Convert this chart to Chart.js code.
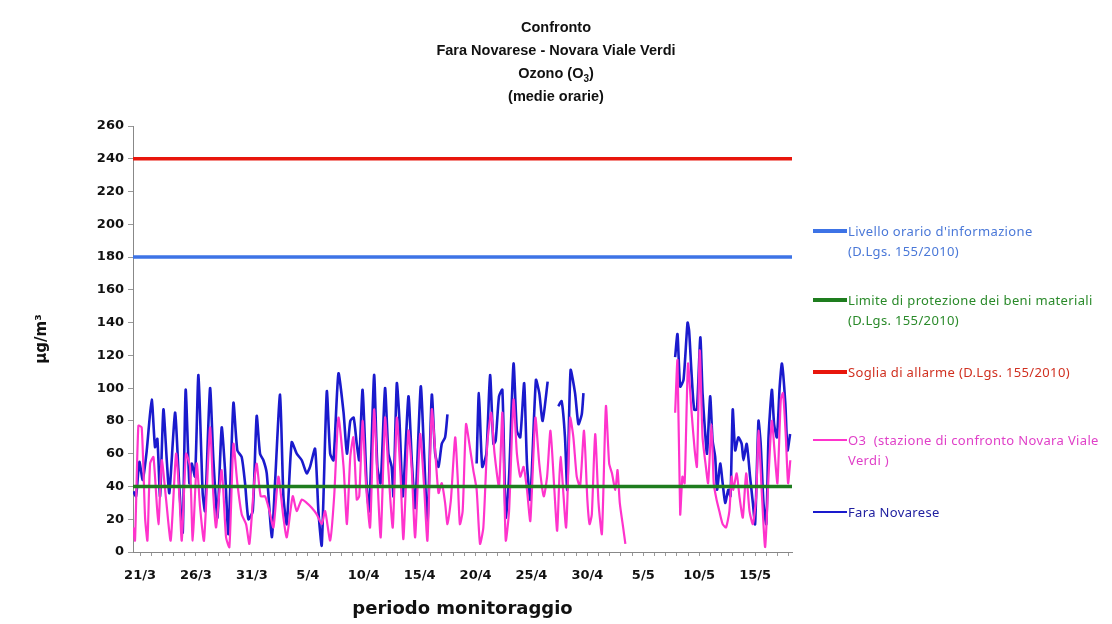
<!DOCTYPE html>
<html><head><meta charset="utf-8">
<script src="https://cdn.jsdelivr.net/npm/chart.js@4.4.1/dist/chart.umd.min.js"></script>
<style>
body{margin:0;background:#fff;}
#wrap{position:relative;width:1112px;height:624px;overflow:hidden;background:#fff;}
#c{position:absolute;left:0;top:0;}
#title{position:absolute;left:0;top:16px;width:1112px;text-align:center;font:bold 14.5px "Liberation Sans",sans-serif;line-height:23px;color:#111;}
.leg{position:absolute;left:813px;font:13px "Noto Sans",sans-serif;letter-spacing:0.35px;line-height:20px;white-space:nowrap;}
.leg .sw{position:absolute;left:0;width:34px;}
.leg .tx{margin-left:35px;}
</style></head>
<body><div id="wrap">
<canvas id="c" width="1112" height="624"></canvas>
<div id="title">Confronto<br>Fara Novarese - Novara Viale Verdi<br>Ozono (O<sub style="font-size:10px;line-height:0">3</sub>)<br>(medie orarie)</div>
<div class="leg" style="top:221px;color:#4a78d8"><div class="sw" style="top:8px;height:4px;background:#3d73e6"></div><div class="tx">Livello orario d'informazione<br>(D.Lgs. 155/2010)</div></div>
<div class="leg" style="top:290px;color:#2a8a2a"><div class="sw" style="top:8px;height:4px;background:#1e7d1e"></div><div class="tx">Limite di protezione dei beni materiali<br>(D.Lgs. 155/2010)</div></div>
<div class="leg" style="top:362px;color:#d03020"><div class="sw" style="top:8px;height:4px;background:#e8160c"></div><div class="tx">Soglia di allarme (D.Lgs. 155/2010)</div></div>
<div class="leg" style="top:430px;color:#e040c8"><div class="sw" style="top:9px;height:2px;background:#ff33cc"></div><div class="tx">O3&nbsp; (stazione di confronto Novara Viale<br>Verdi )</div></div>
<div class="leg" style="top:502px;color:#2020a0"><div class="sw" style="top:9px;height:2px;background:#1a1acd"></div><div class="tx">Fara Novarese</div></div>
</div>
<script>
// x values are days counted from 21/3
const xTickLabels = ['21/3','26/3','31/3','5/4','10/4','15/4','20/4','25/4','30/4','5/5','10/5','15/5'];
const yTicks = [0,20,40,60,80,100,120,140,160,180,200,220,240,260];

const faraDays = [-0.6,-0.36,-0.06,0.24,0.6,1.04,1.34,1.55,1.79,2.09,2.39,2.62,3.13,3.43,3.64,3.82,4.08,4.41,4.62,4.92,5.22,5.6,5.81,6.26,6.56,6.92,7.3,7.6,7.9,8.35,8.7,9.09,9.39,9.69,10.08,10.43,10.73,11.03,11.33,11.78,12.07,12.52,12.82,13.12,13.56,14.01,14.46,14.9,15.2,15.65,15.95,16.25,16.7,17.0,17.3,17.74,18.2,18.5,18.8,19.1,19.38,19.6,19.9,20.27,20.5,20.93,21.22,21.52,21.91,22.21,22.5,22.66,22.96,23.2,23.5,24.0,24.3,24.6,25.1,25.4,25.7,26.09,26.39,26.69,26.98,27.28,27.49,
28.8,
30.1,30.3,30.6,30.97,31.3,31.6,31.8,32.1,32.4,32.7,33.0,33.4,33.7,34.0,34.35,34.6,34.9,35.4,35.7,36.0,36.45,
36.9,
37.4,37.7,38.0,38.2,38.5,38.9,39.2,39.5,39.65,
43.0,
47.85,48.06,48.3,48.6,48.96,49.1,49.3,49.55,49.8,50.1,50.3,50.5,50.7,50.98,51.2,51.43,51.6,51.88,52.1,52.33,52.6,52.8,53.0,53.22,53.5,53.8,53.96,54.25,54.55,54.8,55.0,55.3,55.5,55.75,56.0,56.2,56.5,56.7,56.95,57.2,57.4,57.7,57.9,58.13];
const faraValues = [37,34,55,44,62,93,64,69,34,87,56,36,85,50,25,12,99,42,54,46,108,36,25,100,56,21,76,50,11,91,62,58,42,20,25,83,60,56,48,9,42,96,34,17,67,60,56,48,52,63,25,4,98,60,56,109,85,60,80,82,66,56,99,40,25,108,52,42,100,60,52,34,103,80,34,95,56,27,101,60,17,96,60,52,66,70,84,
null,
54,97,52,60,108,66,68,95,99,21,46,115,74,70,103,54,32,105,97,80,104,
null,
89,92,70,38,111,97,78,84,97,
null,
119,133,101,105,140,135,111,87,87,131,97,76,60,95,68,58,38,54,42,30,38,34,87,62,70,66,56,66,46,30,17,80,66,30,17,70,99,78,70,101,115,91,62,72];

const o3Days = [-0.6,-0.45,-0.15,0.15,0.45,0.66,0.9,1.2,1.64,1.94,2.33,2.74,3.22,3.52,3.73,4.11,4.47,4.71,5.07,5.37,5.72,6.26,6.56,6.8,7.3,7.69,7.99,8.35,8.7,9.09,9.48,9.78,10.2,10.43,10.79,11.18,11.57,11.93,12.37,12.82,13.12,13.65,14.01,14.46,14.9,15.35,15.8,16.25,16.55,17.0,17.36,17.74,18.2,18.5,18.8,19.08,19.38,19.6,19.9,20.2,20.57,20.93,21.22,21.52,21.91,22.21,22.6,22.96,23.3,23.55,24.0,24.3,24.6,25.05,25.4,25.7,26.09,26.39,26.69,26.98,27.28,27.49,27.8,28.18,28.4,28.6,28.85,29.15,29.45,29.8,30.1,30.4,30.7,31.05,31.4,31.7,32.1,32.4,32.7,33.0,33.4,33.7,34.0,34.3,34.6,34.9,35.35,35.7,36.1,36.4,36.7,37.05,37.3,37.6,38.1,38.46,38.75,39.05,39.35,39.7,40.0,40.2,40.4,40.7,41.0,41.3,41.66,41.95,42.2,42.5,42.7,42.9,43.2,43.4,
45.5,
47.85,48.06,48.3,48.5,48.7,49.0,49.3,49.6,49.8,50.05,50.3,50.6,50.8,51.1,51.3,51.55,51.8,52.1,52.4,52.7,52.9,53.05,53.35,53.6,53.9,54.2,54.5,54.8,55.1,55.3,55.6,55.9,56.2,56.5,56.8,57.0,57.3,57.5,57.75,57.95,58.15];
const o3Values = [15,7,77,76,21,7,54,58,17,56,32,7,60,34,7,60,52,7,54,27,7,76,34,15,50,9,3,66,42,23,17,5,42,54,34,34,25,15,46,21,9,34,25,32,30,27,23,17,25,7,34,82,52,17,58,70,32,34,80,42,15,87,46,9,82,50,15,82,46,8,74,50,9,72,40,7,87,62,36,42,30,17,32,70,46,17,25,78,66,50,38,5,15,66,85,60,40,85,7,25,93,60,46,52,38,19,82,54,34,46,74,38,13,58,15,82,70,46,40,74,32,17,23,72,30,11,89,54,48,38,50,30,15,5,
null,
85,117,23,46,42,115,87,62,52,123,70,52,42,78,42,32,25,17,15,25,46,38,48,34,21,48,25,17,34,74,36,3,46,80,56,42,93,97,70,42,56];

const thresholds = {info:180, beni:40, allarme:240};

const xMin = -0.63, xMax = 58.3;
const pts = (d, v) => d.map((x, i) => ({x: x, y: v[i]}));
const flat = (val) => [{x: xMin, y: val}, {x: xMax, y: val}];
const tickFont = {family: 'DejaVu Sans', size: 13, weight: 'bold'};

new Chart(document.getElementById('c'), {
  type: 'line',
  data: {datasets: [
    {label: 'Limite di protezione dei beni materiali (D.Lgs. 155/2010)', data: flat(thresholds.beni), borderColor: '#1e7d1e', borderWidth: 3.5, pointRadius: 0},
    {label: 'O3 (stazione di confronto Novara Viale Verdi )', data: pts(o3Days, o3Values), borderColor: '#ff33cc', borderWidth: 2.2, pointRadius: 0, tension: 0.2, spanGaps: false},
    {label: 'Fara Novarese', data: pts(faraDays, faraValues), borderColor: '#1a1acd', borderWidth: 2.6, pointRadius: 0, tension: 0.2, spanGaps: false},
    {label: 'Soglia di allarme (D.Lgs. 155/2010)', data: flat(thresholds.allarme), borderColor: '#e8160c', borderWidth: 3.5, pointRadius: 0},
    {label: "Livello orario d'informazione (D.Lgs. 155/2010)", data: flat(thresholds.info), borderColor: '#3d73e6', borderWidth: 3.5, pointRadius: 0}
  ]},
  options: {
    responsive: false, animation: false, devicePixelRatio: 1,
    layout: {padding: {top: 126, right: 320, bottom: 0, left: 0}},
    plugins: {legend: {display: false}, tooltip: {enabled: false}},
    scales: {
      x: {
        type: 'linear', min: xMin, max: xMax,
        afterFit(s) { s.height = 72; },
        afterBuildTicks(s) { const t = []; for (let i = 0; i <= 58; i++) t.push({value: i}); s.ticks = t; },
        ticks: {autoSkip: false, maxRotation: 0, minRotation: 0, padding: 12, font: tickFont, color: '#111',
          callback(v) { return (v % 5 === 0) ? xTickLabels[v / 5] : ''; }},
        grid: {drawOnChartArea: false, drawTicks: true, tickLength: 4, color: '#999'},
        border: {color: '#888', width: 1},
        title: {display: true, text: 'periodo monitoraggio', color: '#111', font: {family: 'DejaVu Sans', size: 18, weight: 'bold'}, padding: {top: 0, bottom: 4}}
      },
      y: {
        min: 0, max: 260,
        afterFit(s) { s.width = 133; },
        afterBuildTicks(s) { s.ticks = yTicks.map(v => ({value: v})); },
        ticks: {padding: 4, font: tickFont, color: '#111'},
        grid: {drawOnChartArea: false, drawTicks: true, tickLength: 5, color: '#999'},
        border: {color: '#888', width: 1},
        title: {display: true, text: 'µg/m³', color: '#111', font: {family: 'DejaVu Sans', size: 15, weight: 'bold'}, padding: {top: 33, bottom: 0}}
      }
    }
  }
});
</script>
</body></html>
